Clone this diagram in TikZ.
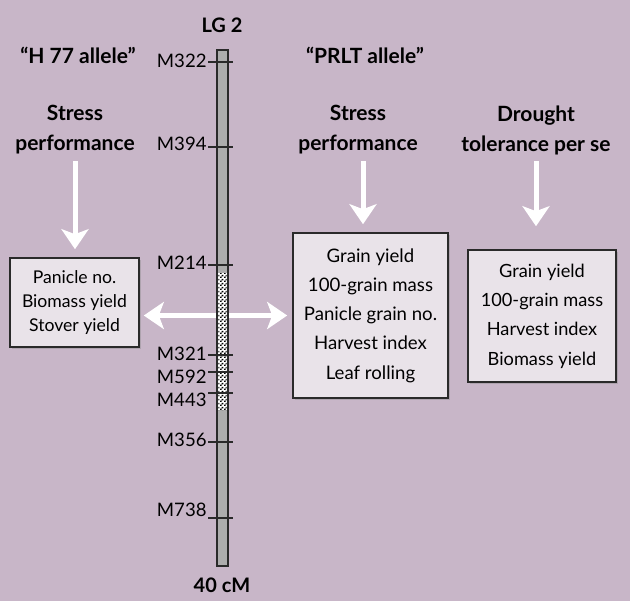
\documentclass[tikz,border=0pt]{standalone}
\usepackage{fontspec}
\setmainfont{Lato}
\usepackage{tikz}
\usetikzlibrary{arrows.meta, positioning, patterns, shadows}
\definecolor{PlateMauve}{HTML}{C8B6C8}
\definecolor{BoxLilac}{HTML}{E9E3E9}
\definecolor{BarGray}{HTML}{ADADAD}
\definecolor{EdgeDark}{HTML}{2A2A2A}
\pgfdeclarepatternformonly{speckle}{\pgfpointorigin}{\pgfqpoint{2pt}{2pt}}{\pgfqpoint{2pt}{2pt}}{
  \pgfpathrectangle{\pgfpointorigin}{\pgfqpoint{0.9pt}{0.9pt}}
  \pgfpathrectangle{\pgfqpoint{1pt}{1pt}}{\pgfqpoint{0.9pt}{0.9pt}}
  \pgfusepath{fill}
}
\tikzset{
  % Box styles
  traitbox/.style={rectangle, draw=EdgeDark, line width=0.8pt, fill=BoxLilac, inner sep=0pt, align=center, drop shadow={shadow xshift=0.8pt, shadow yshift=-0.8pt, opacity=0.35}},
  chrombar/.style={rectangle, draw=EdgeDark, line width=0.8pt, fill=BarGray, inner sep=0pt},
  qtlbar/.style={rectangle, inner sep=0pt, preaction={fill=white}, pattern=speckle},
  % Text styles
  headtext/.style={font=\bfseries\fontsize{10.5}{15}\selectfont, align=center, inner sep=0pt},
  markerlabel/.style={anchor=east, font=\fontsize{9.3}{11}\selectfont, inner sep=0.5pt},
  % Arrow styles
  wharrow/.style={-{Stealth[length=10pt, width=13.5pt, inset=2.5pt]}, line width=2.5pt, white},
  dblarrow/.style={{Stealth[length=10pt, width=13.5pt, inset=2.5pt]}-{Stealth[length=10pt, width=13.5pt, inset=2.5pt]}, line width=2.5pt, white},
  tick/.style={EdgeDark, line width=0.8pt}
}
\begin{document}
\begin{tikzpicture}[x=0.5pt, y=-0.5pt]
  \fill[PlateMauve] (0,0) rectangle (630,601);

  % Headings
  \node[headtext, font=\bfseries\fontsize{10}{12}\selectfont] (lg2) at (222,25) {LG 2};
  \node[headtext] (h77) at (78,55) {“H 77 allele”};
  \node[headtext] (prlt) at (365,55) {“PRLT allele”};
  \node[headtext] (lhead) at (75,130) {Stress\\performance};
  \node[headtext] (mhead) at (358,130) {Stress\\performance};
  \node[headtext] (rhead) at (536,130) {Drought\\tolerance per se};
  \node[headtext, font=\bfseries\fontsize{10}{12}\selectfont] (cm40) at (222,585) {40 cM};

  % Trait boxes
  \node[traitbox, minimum width=64.5pt, minimum height=44.5pt, font=\fontsize{8.8}{12}\selectfont] (lbox) at (74.5,302.5) {
    Panicle no.\\Biomass yield\\Stover yield
  };
  \node[traitbox, minimum width=77.5pt, minimum height=82.5pt, font=\fontsize{9.3}{14.6}\selectfont] (mbox) at (370.5,315.5) {
    Grain yield\\100-grain mass\\Panicle grain no.\\Harvest index\\Leaf rolling
  };
  \node[traitbox, minimum width=74pt, minimum height=66pt, font=\fontsize{9.1}{14.7}\selectfont] (rbox) at (542,316) {
    Grain yield\\100-grain mass\\Harvest index\\Biomass yield
  };

  % Arrows
  \draw[wharrow, shorten <=3pt, shorten >=4pt] (lhead.south) -- (lhead.south |- lbox.north);
  \draw[wharrow, shorten <=3pt, shorten >=4pt] ([xshift=2.5pt]mhead.south) -- ([xshift=2.5pt]mhead.south |- mbox.north);
  \draw[wharrow, shorten <=3pt, shorten >=11.5pt] (rhead.south) -- (rhead.south |- rbox.north);
  \draw[dblarrow, shorten <=2pt, shorten >=2.5pt] (lbox.east |- mbox.west) -- (mbox.west);

  % Linkage group
  \node[chrombar, minimum width=5.5pt, minimum height=258pt] (lg) at (222.5,308) {};
  \node[qtlbar, minimum width=4.2pt, minimum height=68.5pt] (qtl) at (222.5,341.5) {};

  % Markers
  \draw[tick] (208,62) -- (233,62);
  \node[markerlabel] (m322) at (208,61) {M322};
  \draw[tick] (208,147) -- (233,147);
  \node[markerlabel] (m394) at (208,144) {M394};
  \draw[tick] (208,265) -- (233,265);
  \node[markerlabel] (m214) at (208,263) {M214};
  \draw[tick] (208,355) -- (233,355);
  \node[markerlabel] (m321) at (208,354) {M321};
  \draw[tick] (208,372) -- (233,372);
  \node[markerlabel] (m592) at (208,377) {M592};
  \draw[tick] (208,393) -- (233,393);
  \node[markerlabel] (m443) at (208,400) {M443};
  \draw[tick] (208,442) -- (233,442);
  \node[markerlabel] (m356) at (208,440) {M356};
  \draw[tick] (208,518) -- (233,518);
  \node[markerlabel] (m738) at (208,510) {M738};
\end{tikzpicture}
\end{document}
